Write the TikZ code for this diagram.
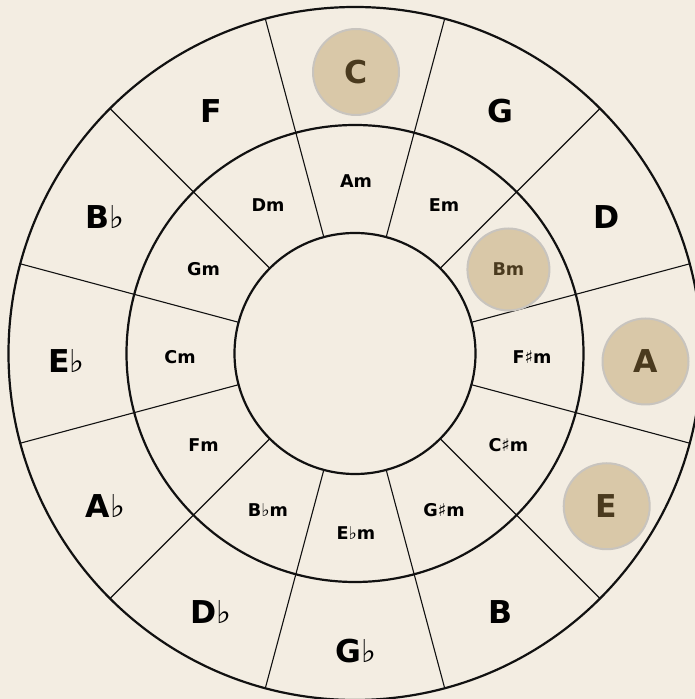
\documentclass[tikz,border=0pt]{standalone}
\usepackage{fontspec}
\setsansfont{DejaVu Sans}
\usepackage{xcolor}
\usepackage{tikz}
\definecolor{CF_BG}{HTML}{F3EDE2}
\definecolor{CF_LINE}{HTML}{111111}
\definecolor{CF_HL}{HTML}{D9C8A8}
\definecolor{CF_HLEDGE}{HTML}{C8C4BE}
\definecolor{CF_HLTEXT}{HTML}{4A3A1E}
\newcommand{\flt}{{\mdseries ♭}}
\newcommand{\shp}{{\mdseries ♯}}
\tikzset{
  ring/.style={draw=CF_LINE, line width=2.2pt},
  spoke/.style={draw=CF_LINE, line width=1.1pt},
  majorkey/.style={
    inner sep=0pt, text=black,
    font=\sffamily\bfseries\fontsize{31.5}{36}\selectfont},
  minorkey/.style={
    inner sep=0pt, text=black,
    font=\sffamily\bfseries\fontsize{17.6}{20}\selectfont},
  hl/.style={
    circle, fill=CF_HL, draw=CF_HLEDGE, line width=2pt,
    text=CF_HLTEXT, align=center},
  hlmaj/.style={hl, minimum size=86pt},
  hlmin/.style={hl, minimum size=82pt},
  plain/.style={},
}

\begin{document}
\begin{tikzpicture}[x=1pt,y=1pt]

  \useasboundingbox (0,0) rectangle (695,699);
  \fill[CF_BG] (0,0) rectangle (695,699);
  \clip (0,0) rectangle (695,699);

  \begin{scope}[shift={(355,345.5)}]

    % three rings
    \draw[ring] (0,0) circle (120.5);
    \draw[ring] (0,0) circle (228.5);
    \draw[ring] (0,0) circle (346.5);

    % twelve spokes
    \foreach \a in {15,45,...,345}
      \draw[spoke] (\a:120.5) -- (\a:346.5);

    % keys: angle / major / minor / styles
    \foreach \a/\maj/\mnr/\ms/\ns [count=\i] in {
        90/C/Am/hlmaj/plain,
        60/G/Em/plain/plain,
        30/D/Bm/plain/hlmin,
        0/A/F\shp m/hlmaj/plain,
        -30/E/C\shp m/hlmaj/plain,
        -60/B/G\shp m/plain/plain,
        -90/G\flt/E\flt m/plain/plain,
        -120/D\flt/B\flt m/plain/plain,
        -150/A\flt/Fm/plain/plain,
        180/E\flt/Cm/plain/plain,
        150/B\flt/Gm/plain/plain,
        120/F/Dm/plain/plain} {
      \node[majorkey, \ms, xshift=1pt, yshift=-8pt] (maj-\i) at (\a:289.5) {\maj};
      \node[minorkey, \ns, xshift=1pt, yshift=-4pt] (min-\i) at (\a:176) {\mnr};
    }

  \end{scope}

\end{tikzpicture}
\end{document}
